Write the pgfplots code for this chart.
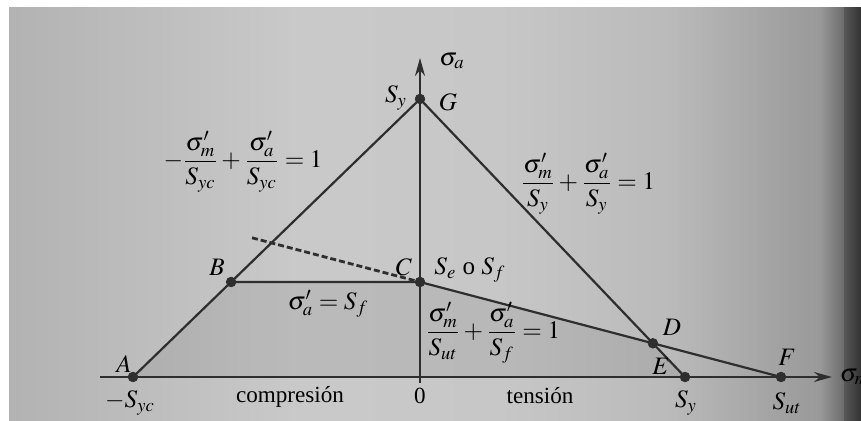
\documentclass[border=0pt,12pt]{standalone}
\usepackage{mathptmx}
\usepackage{fontspec}
\setmainfont{Liberation Serif}
\usepackage{pgfplots}
\pgfplotsset{compat=1.18}
\usetikzlibrary{arrows.meta}

\definecolor{ink}{HTML}{2E2E2E}
\newcommand\word[1]{{\fontsize{11.6}{14}\selectfont #1}}

\begin{document}
\fontsize{12.6}{15}\selectfont
\begin{tikzpicture}
\begin{axis}[
  name=ax,
  scale only axis,
  width=430.5bp, height=210.5bp,
  xmin=-420, xmax=441, ymin=-44, ymax=377,
  axis lines=none,
  clip=false,
  every node/.append style={text=ink},
]
% paper background, darker towards the right edge
\fill[white] (-420,-44) rectangle (441,377);
\fill[left color=black!30, right color=black!21] (-411,-44) rectangle (-120,369);
\fill[left color=black!21, right color=black!22] (-120,-44) rectangle (80,369);
\fill[left color=black!22, right color=black!27] (80,-44) rectangle (250,369);
\fill[left color=black!27, right color=black!40] (250,-44) rectangle (400,369);
\fill[left color=black!40, right color=black!58] (400,-44) rectangle (424,369);
\fill[left color=black!66, right color=black!80] (424,-44) rectangle (441,369);

% safe region under the modified-Goodman line
\addplot[draw=none, fill=black, fill opacity=0.07]
  coordinates {(-287,0) (-188.9,95) (0,95) (232.9,33.7) (265,0)} \closedcycle;

% axes
\addplot[ink, line width=1.1bp, -{Stealth[length=9bp,width=5bp]}]
  coordinates {(-320,0) (412,0)};
\addplot[ink, line width=1.1bp, -{Stealth[length=9bp,width=5bp]}]
  coordinates {(0,-6) (0,319)};

% yield lines
\addplot[ink, line width=1.1bp] coordinates {(-287,0) (0,278)};
\addplot[ink, line width=1.1bp] coordinates {(0,278) (265,0)};
% fatigue lines
\addplot[ink, line width=1.1bp] coordinates {(-188.9,95) (0,95) (232.9,33.7) (361,0)};
\addplot[ink, line width=1.4bp, dash pattern=on 3bp off 1.5bp] coordinates {(-168,139.2) (0,95)};

% key points A..G
\addplot[only marks, mark=*, mark size=2.4bp, ink]
  coordinates {(-287,0) (-188.9,95) (0,95) (232.9,33.7) (265,0) (361,0) (0,278)};

% labels
\node at (32,316) {$\sigma_a$};
\node at (-24,279) {$S_y$};
\node at (28,275) {$G$};
\node at (-177,215) {$\displaystyle -\frac{\sigma'_m}{S_{yc}}+\frac{\sigma'_a}{S_{yc}}=1$};
\node at (168,193) {$\displaystyle \frac{\sigma'_m}{S_y}+\frac{\sigma'_a}{S_y}=1$};
\node at (-203,110) {$B$};
\node at (-16,110) {$C$};
\node at (50,107) {$S_e$ o $S_f$};
\node at (-92,73) {$\sigma'_a=S_f$};
\node at (73,44) {$\displaystyle \frac{\sigma'_m}{S_{ut}}+\frac{\sigma'_a}{S_f}=1$};
\node at (252,50) {$D$};
\node at (241,11) {$E$};
\node at (367,20) {$F$};
\node at (-296,13) {$A$};
\node[anchor=west] at (411,0) {$\sigma_m$};
\node at (-290,-26) {$-S_{yc}$};
\node at (-130,-20) {\word{compresión}};
\node at (0,-19) {\word{0}};
\node at (120,-19) {\word{tensión}};
\node at (266,-26) {$S_y$};
\node at (367,-26) {$S_{ut}$};
\end{axis}
\pgfresetboundingbox
\path[use as bounding box] (ax.south west) rectangle (ax.north east);
\end{tikzpicture}
\end{document}
